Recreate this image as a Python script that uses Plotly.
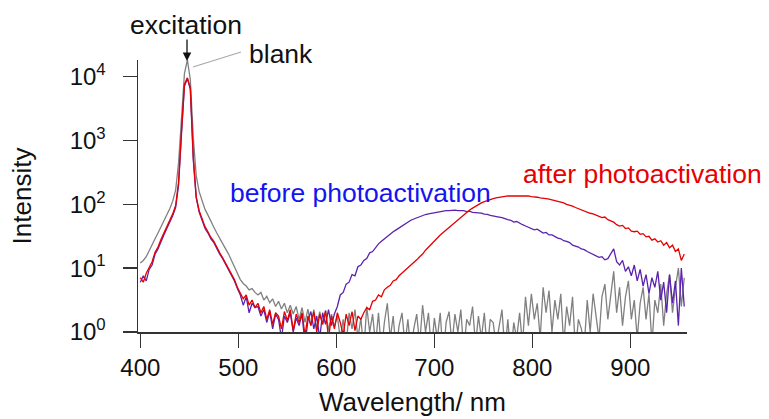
import plotly.graph_objects as go

# Wavelength grid (nm), 3 nm sampling from 400 to 955
wavelength = list(range(400, 956, 3))

# Intensities (log-scale plot), values per 3 nm
blank = [
    12.0, 13.2, 15.1, 19.1, 22.9, 28.8, 35.5, 43.7, 55.0, 69.2,
    85.1, 112, 166, 447, 2820, 11200, 18200, 8910, 1120, 282,
    158, 112, 83.2, 67.6, 52.5, 43.7, 35.5, 28.8, 24.0, 20.0,
    16.6, 13.2, 10.5, 7.94, 6.61, 5.75, 5.25, 4.57, 4.79, 4.17,
    3.80, 4.17, 3.16, 3.63, 2.88, 3.31, 2.51, 3.02, 2.29, 2.82,
    2.00, 2.63, 1.91, 2.51, 1.58, 2.40, 1.41, 2.29, 1.26, 2.24,
    1.12, 2.09, 1.32, 2.19, 1.05, 1.91, 1.20, 1.78, 0.79, 1.58,
    0.63, 2.00, 1.12, 2.24, 0.79, 1.66, 0.50, 2.51, 1.00, 1.91,
    0.63, 2.00, 0.50, 1.41, 2.82, 0.79, 1.78, 0.50, 1.26, 2.00,
    0.63, 1.58, 0.50, 1.12, 1.91, 0.63, 2.63, 1.00, 2.00, 0.50,
    1.66, 0.79, 2.00, 0.40, 1.41, 2.09, 0.63, 1.91, 1.00, 2.24,
    0.50, 1.58, 1.26, 2.51, 0.63, 1.78, 0.79, 2.00, 0.50, 1.58,
    1.41, 0.63, 1.26, 2.24, 0.50, 1.58, 0.40, 1.41, 0.79, 2.00,
    0.63, 3.55, 1.26, 3.98, 1.58, 2.82, 0.79, 5.01, 2.00, 4.47,
    1.00, 3.16, 1.58, 3.98, 0.63, 2.51, 1.26, 3.55, 0.50, 1.58,
    1.12, 0.63, 3.16, 1.00, 3.98, 1.58, 0.79, 3.55, 5.62, 1.58,
    3.98, 8.91, 2.00, 5.01, 1.26, 3.55, 6.31, 1.58, 3.16, 0.79,
    2.82, 5.01, 1.58, 3.98, 0.63, 3.16, 2.00, 5.62, 1.26, 3.98,
    7.94, 2.00, 5.01, 10.0, 2.51, 7.08,
]

before = [
    6.03, 7.59, 6.31, 9.55, 11.2, 16.6, 20.0, 26.3, 33.1, 41.7,
    52.5, 66.1, 89.1, 200, 1260, 7080, 9330, 6310, 501, 126,
    75.9, 56.2, 41.7, 35.5, 28.8, 25.1, 20.0, 16.6, 14.1, 11.5,
    9.55, 7.59, 6.31, 4.79, 3.80, 2.63, 3.55, 2.00, 2.82, 2.40,
    2.51, 1.78, 2.24, 1.41, 2.09, 1.12, 1.91, 1.58, 0.79, 1.78,
    1.41, 2.00, 1.00, 1.66, 1.26, 1.91, 0.63, 1.51, 2.09, 1.12,
    1.78, 0.79, 2.00, 1.32, 2.24, 1.26, 1.91, 2.51, 3.80, 4.17,
    5.62, 6.03, 7.94, 7.59, 10.5, 11.2, 13.2, 14.1, 17.4, 18.2,
    21.4, 24.0, 26.3, 28.8, 31.6, 33.9, 37.2, 39.8, 42.7, 45.7,
    50.1, 52.5, 56.2, 58.9, 61.7, 64.6, 66.1, 69.2, 70.8, 72.4,
    74.1, 75.9, 77.6, 77.6, 79.4, 79.4, 81.3, 81.3, 79.4, 79.4,
    79.4, 77.0, 78.0, 75.0, 74.5, 73.0, 72.8, 70.0, 69.5, 67.0,
    66.1, 64.6, 63.1, 61.7, 58.9, 57.5, 56.2, 52.5, 53.7, 50.1,
    47.9, 45.7, 43.7, 42.7, 39.8, 40.7, 38.0, 35.5, 36.3, 33.1,
    33.1, 30.9, 29.5, 28.8, 26.9, 26.3, 25.1, 22.9, 22.4, 21.4,
    20.0, 19.5, 18.2, 17.4, 16.6, 15.8, 14.8, 15.1, 13.5, 14.1,
    16.6, 20.0, 12.6, 11.2, 13.2, 8.91, 10.5, 7.59, 11.2, 6.31,
    9.55, 5.25, 7.94, 3.98, 7.08, 5.01, 8.91, 3.16, 6.03, 2.00,
    7.94, 2.82, 6.31, 1.26, 10.0, 2.51,
]

after = [
    7.08, 6.03, 8.32, 10.0, 12.6, 17.8, 21.4, 28.2, 35.5, 44.7,
    56.2, 70.8, 95.5, 224, 1410, 7590, 9550, 6610, 562, 132,
    79.4, 60.3, 44.7, 37.2, 30.2, 26.3, 20.9, 17.4, 14.5, 12.0,
    10.0, 7.94, 6.61, 5.01, 4.17, 3.31, 3.80, 2.63, 3.16, 2.40,
    2.82, 2.00, 2.51, 1.58, 2.24, 1.32, 2.00, 1.78, 1.12, 2.09,
    1.51, 2.24, 1.05, 1.91, 1.41, 2.00, 0.89, 1.78, 1.26, 2.09,
    1.00, 1.91, 1.32, 2.14, 0.79, 1.78, 1.12, 2.00, 1.41, 0.89,
    1.91, 1.26, 2.09, 1.05, 1.78, 1.58, 2.00, 2.40, 2.24, 3.02,
    3.16, 3.80, 3.55, 4.57, 5.01, 5.37, 6.31, 6.61, 7.59, 8.32,
    9.12, 10.0, 11.2, 12.0, 13.5, 15.1, 16.6, 19.1, 21.4, 24.0,
    26.9, 29.5, 33.1, 36.3, 39.8, 43.7, 47.9, 52.5, 57.5, 63.1,
    69.2, 75.9, 81.3, 87.1, 93.3, 100, 105, 110, 115, 120,
    123, 126, 129, 132, 132, 135, 135, 135, 138, 138,
    135, 135, 135, 132, 132, 129, 126, 126, 123, 120,
    117, 115, 110, 107, 105, 100, 97.7, 93.3, 89.1, 85.1,
    81.3, 79.4, 75.9, 72.4, 70.8, 67.6, 66.1, 61.7, 63.1, 57.5,
    55.0, 52.5, 47.9, 45.7, 46.8, 41.7, 42.7, 38.0, 37.2, 38.0,
    33.9, 34.7, 30.9, 31.6, 27.5, 28.8, 25.7, 26.9, 22.9, 25.1,
    20.9, 22.9, 18.2, 20.0, 13.2, 16.6,
]

x_ticks = [400, 500, 600, 700, 800, 900]
y_ticks = [1, 10, 100, 1000, 10000]
y_ticktext = ["10<sup>0</sup>", "10<sup>1</sup>", "10<sup>2</sup>",
              "10<sup>3</sup>", "10<sup>4</sup>"]

FONT = "Liberation Sans, Arial, sans-serif"
GRAY = "#808080"
PURPLE = "#5a22ae"
RED = "#e60000"

fig = go.Figure()
fig.add_trace(go.Scatter(x=wavelength, y=blank, mode="lines",
                         line=dict(color=GRAY, width=1.3), name="blank"))
fig.add_trace(go.Scatter(x=wavelength, y=before, mode="lines",
                         line=dict(color=PURPLE, width=1.3), name="before photoactivation"))
fig.add_trace(go.Scatter(x=wavelength, y=after, mode="lines",
                         line=dict(color=RED, width=1.3), name="after photoactivation"))

W, H = 769, 419
L, R, T, B = 138, 82, 60, 87
pw, ph = W - L - R, H - T - B

def px(xp):
    return (xp - L) / pw

def py(yp):
    return (H - B - yp) / ph

fig.update_layout(
    width=W, height=H,
    margin=dict(l=L, r=R, t=T, b=B, pad=0, autoexpand=False),
    paper_bgcolor="white", plot_bgcolor="white",
    showlegend=False,
    font=dict(family=FONT, size=24, color="black"),
    xaxis=dict(
        range=[397.6, 957.8], tickvals=x_ticks, automargin=False,
        showline=True, linecolor="#333333", linewidth=1.5,
        ticks="outside", ticklen=14, tickwidth=1.5, tickcolor="#333333",
        showgrid=False, zeroline=False,
        tickfont=dict(size=24, family=FONT, color="#111"),
        ticklabelstandoff=0,
        title=dict(text="Wavelength/ nm", font=dict(size=26, family=FONT, color="#111"), standoff=12),
    ),
    yaxis=dict(
        type="log", range=[0, 4.26], tickvals=y_ticks, ticktext=y_ticktext, automargin=False,
        showline=True, linecolor="#333333", linewidth=1.5,
        ticks="outside", ticklen=14, tickwidth=1.5, tickcolor="#333333",
        showgrid=False, zeroline=False,
        tickfont=dict(size=24, family=FONT, color="#111"),
        ticklabelstandoff=12,
        title=dict(text="Intensity", font=dict(size=26, family=FONT, color="#111"), standoff=30),
    ),
)

fig.add_annotation(text="before photoactivation", xref="paper", yref="paper",
                   x=px(228), y=py(193), xanchor="left", yanchor="middle",
                   showarrow=False, font=dict(size=26.5, family=FONT, color="#1414f0"))
fig.add_annotation(text="after photoactivation", xref="paper", yref="paper",
                   x=px(521), y=py(174), xanchor="left", yanchor="middle",
                   showarrow=False, font=dict(size=26.5, family=FONT, color="#e80000"))
fig.add_annotation(text="excitation", xref="paper", yref="paper",
                   x=px(186), y=py(25), xanchor="center", yanchor="middle",
                   showarrow=False, font=dict(size=26.5, family=FONT, color="#111"))
fig.add_annotation(text="blank", xref="paper", yref="paper",
                   x=px(247), y=py(54), xanchor="left", yanchor="middle",
                   showarrow=False, font=dict(size=26.5, family=FONT, color="#111"))
# excitation arrow
fig.add_annotation(text="", xref="paper", yref="paper", x=px(187), y=py(61),
                   ax=0, ay=-23, axref="pixel", ayref="pixel", showarrow=True,
                   arrowhead=2, arrowsize=1.3, arrowwidth=1.3, arrowcolor="#111")
# blank leader line
fig.add_shape(type="line", xref="paper", yref="paper",
              x0=px(193), y0=py(67), x1=px(241), y1=py(52),
              line=dict(color="#a8a8a8", width=1.2))

fig.write_html("out.html",
               config={"displayModeBar": False, "staticPlot": True},
               post_script="document.body.style.margin='0px';document.body.style.overflow='hidden';")
